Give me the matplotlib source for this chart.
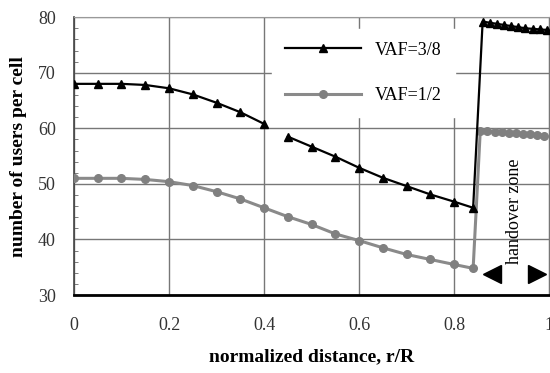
import matplotlib
matplotlib.use("Agg")
import matplotlib.pyplot as plt
import numpy as np

# VAF = 3/8 (triangles), three pieces
x_38_a = [0.0, 0.05, 0.10, 0.15, 0.20, 0.25, 0.30, 0.35, 0.40]
y_38_a = [68.0, 68.0, 68.0, 67.8, 67.2, 66.1, 64.6, 62.9, 60.8]
x_38_b = [0.45, 0.50, 0.55, 0.60, 0.65, 0.70, 0.75, 0.80, 0.84,
          0.86, 0.875, 0.89, 0.905, 0.92, 0.935, 0.95, 0.965, 0.98, 0.995]
y_38_b = [58.5, 56.7, 54.9, 52.9, 51.1, 49.6, 48.1, 46.8, 45.7,
          79.2, 79.0, 78.8, 78.6, 78.4, 78.2, 78.0, 77.9, 77.8, 77.7]

# VAF = 1/2 (circles)
x_12 = [0.0, 0.05, 0.10, 0.15, 0.20, 0.25, 0.30, 0.35, 0.40, 0.45, 0.50,
        0.55, 0.60, 0.65, 0.70, 0.75, 0.80, 0.84,
        0.855, 0.87, 0.885, 0.90, 0.915, 0.93, 0.945, 0.96, 0.975, 0.99]
y_12 = [51.0, 51.0, 51.0, 50.8, 50.4, 49.7, 48.6, 47.3, 45.7, 44.1, 42.7,
        41.0, 39.8, 38.5, 37.3, 36.4, 35.5, 34.8,
        59.6, 59.5, 59.4, 59.3, 59.2, 59.1, 59.0, 58.9, 58.8, 58.7]

x_ticks = [0, 0.2, 0.4, 0.6, 0.8, 1]
x_tick_labels = ["0", "0.2", "0.4", "0.6", "0.8", "1"]
y_ticks = [30, 40, 50, 60, 70, 80]

handover_left = 0.88
handover_right = 0.975
handover_y = 33.7

serif = "Liberation Serif"


def main():
    fig = plt.figure(figsize=(5.5, 3.73), dpi=100)
    ax = fig.add_axes([0.1345, 0.209, 0.864, 0.745])

    ax.plot(x_38_a, y_38_a, color="black", lw=1.6, marker="^", ms=5.5,
            label="VAF=3/8", zorder=6)
    ax.plot(x_38_b, y_38_b, color="black", lw=1.6, marker="^", ms=5.5,
            zorder=4)
    ax.plot(x_12, y_12, color="#8a8a8a", lw=2.2, marker="o", ms=5.5,
            mfc="#808080", mec="#808080", label="VAF=1/2", zorder=3)

    ax.set_xlim(0, 1)
    ax.set_ylim(30, 80)
    ax.set_xticks(x_ticks)
    ax.set_xticklabels(x_tick_labels)
    ax.set_yticks(y_ticks)
    ax.set_yticks(np.arange(30, 81, 2), minor=True)
    ax.tick_params(axis="both", which="major", length=0, labelsize=13)
    ax.tick_params(axis="y", which="major", pad=13)
    ax.tick_params(axis="x", which="major", pad=16)
    ax.tick_params(axis="y", which="minor", direction="in", length=3,
                   color="#666666")
    for lab in ax.get_xticklabels() + ax.get_yticklabels():
        lab.set_family(serif)
        lab.set_color("#333333")

    ax.grid(True, which="major", color="#777777", lw=1.0, zorder=0)
    ax.spines["bottom"].set_linewidth(2.0)
    ax.spines["left"].set_linewidth(1.2)
    ax.spines["left"].set_color("#444444")
    ax.spines["top"].set_color("#999999")
    ax.spines["right"].set_color("#777777")

    ax.set_xlabel("normalized distance, r/R", family=serif,
                  fontweight="bold", fontsize=14, labelpad=10)
    ax.set_ylabel("number of users per cell", family=serif,
                  fontweight="bold", fontsize=14, labelpad=8)

    leg = ax.legend(loc="upper left", bbox_to_anchor=(0.398, 0.99),
                    frameon=True, fancybox=False, framealpha=1,
                    edgecolor="white", handlelength=4.2, labelspacing=1.6,
                    borderpad=0.7, prop={"family": serif, "size": 13})
    leg.set_zorder(5)

    ax.text(0.928, 45, "handover zone", rotation=90, ha="center",
            va="center", family=serif, fontsize=13, zorder=6)
    ax.plot([handover_left], [handover_y], marker="<", color="black",
            ms=13, clip_on=False, zorder=6)
    ax.plot([handover_right], [handover_y], marker=">", color="black",
            ms=13, clip_on=False, zorder=6)

    fig.savefig("out.png", dpi=100)


if __name__ == "__main__":
    main()
